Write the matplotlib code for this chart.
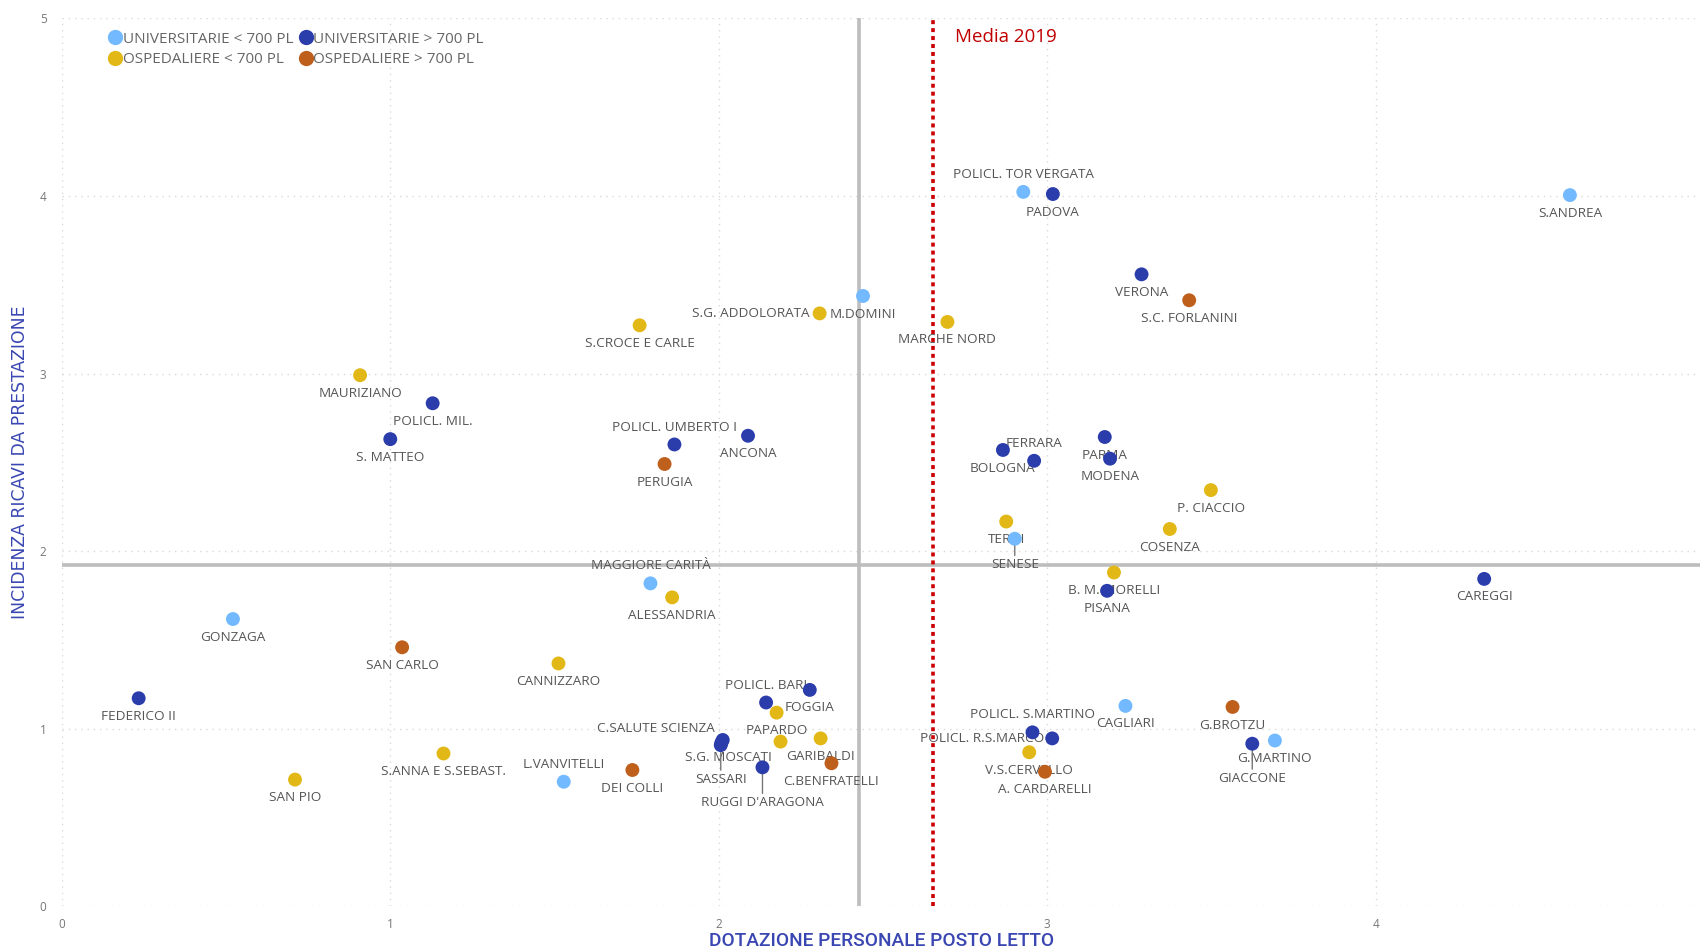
import matplotlib
matplotlib.use('Agg')
import matplotlib.pyplot as plt
from matplotlib.lines import Line2D

plt.rcParams['font.family'] = ['Open Sans', 'DejaVu Sans']

# dati: dotazione personale per posto letto (x) vs incidenza ricavi da prestazione (y)
names = [
    'S.ANDREA', 'POLICL. TOR VERGATA', 'PADOVA', 'VERONA', 'S.C. FORLANINI',
    'M.DOMINI', 'S.G. ADDOLORATA', 'S.CROCE E CARLE', 'MARCHE NORD', 'MAURIZIANO',
    'POLICL. MIL.', 'S. MATTEO', 'POLICL. UMBERTO I', 'ANCONA', 'PERUGIA',
    'BOLOGNA', 'FERRARA', 'PARMA', 'MODENA', 'P. CIACCIO',
    'COSENZA', 'TERNI', 'SENESE', 'B. M. MORELLI', 'PISANA',
    'CAREGGI', 'MAGGIORE CARITÀ', 'ALESSANDRIA', 'GONZAGA', 'SAN CARLO',
    'CANNIZZARO', 'FEDERICO II', 'POLICL. BARI', 'FOGGIA', 'PAPARDO',
    '', 'GARIBALDI', 'C.BENFRATELLI', 'C.SALUTE SCIENZA', 'S.G. MOSCATI',
    'SASSARI', "RUGGI D'ARAGONA", 'DEI COLLI', 'L.VANVITELLI', 'S.ANNA E S.SEBAST.',
    'SAN PIO', 'POLICL. S.MARTINO', 'POLICL. R.S.MARCO', 'V.S.CERVELLO', 'A. CARDARELLI',
    'CAGLIARI', 'G.BROTZU', 'G.MARTINO', 'GIACCONE',
]
dotazione = [
    4.591, 2.927, 3.017, 3.287, 3.432,
    2.439, 2.307, 1.759, 2.696, 0.908,
    1.129, 1.000, 1.865, 2.089, 1.835,
    2.865, 2.960, 3.175, 3.191, 3.498,
    3.373, 2.875, 2.901, 3.203, 3.182,
    4.330, 1.792, 1.858, 0.521, 1.036,
    1.512, 0.234, 2.144, 2.277, 2.176,
    2.188, 2.310, 2.343, 2.012, 2.008,
    2.006, 2.133, 1.737, 1.528, 1.162,
    0.710, 2.955, 3.015, 2.945, 2.993,
    3.238, 3.564, 3.693, 3.624,
]
incidenza = [
    4.005, 4.023, 4.011, 3.559, 3.413,
    3.437, 3.339, 3.272, 3.291, 2.991,
    2.833, 2.631, 2.601, 2.650, 2.491,
    2.570, 2.509, 2.643, 2.521, 2.344,
    2.125, 2.167, 2.070, 1.880, 1.777,
    1.844, 1.819, 1.740, 1.618, 1.459,
    1.368, 1.172, 1.148, 1.219, 1.091,
    0.928, 0.946, 0.806, 0.937, 0.922,
    0.908, 0.783, 0.768, 0.702, 0.861,
    0.714, 0.980, 0.946, 0.868, 0.758,
    1.129, 1.123, 0.934, 0.916,
]
# UL = universitarie < 700 PL, UG = universitarie > 700 PL, OL/OG = ospedaliere
tipo = [
    'UL', 'UL', 'UG', 'UG', 'OG',
    'UL', 'OL', 'OL', 'OL', 'OL',
    'UG', 'UG', 'UG', 'UG', 'OG',
    'UG', 'UG', 'UG', 'UG', 'OL',
    'OL', 'OL', 'UL', 'OL', 'UG',
    'UG', 'UL', 'OL', 'UL', 'OG',
    'OL', 'UG', 'UG', 'UG', 'OL',
    'OL', 'OL', 'OG', 'UG', 'UG',
    'UG', 'UG', 'OG', 'UL', 'OL',
    'OL', 'UG', 'UG', 'OL', 'OG',
    'UL', 'OG', 'UL', 'UG',
]
categorie = ['UL', 'UG', 'OL', 'OG']
legenda = ['UNIVERSITARIE < 700 PL', 'UNIVERSITARIE > 700 PL',
           'OSPEDALIERE < 700 PL', 'OSPEDALIERE > 700 PL']
media_x = 2.426
media_y = 1.923
media_2019 = 2.653

colori = {'UL': '#72B9FF', 'UG': '#2B3CAB', 'OL': '#E2B816', 'OG': '#BF5F1C'}

# posizione etichette (offset in punti)
SOTTO = (0, -13, 'center')
SOPRA = (0, 12.5, 'center')
pos_etichette = {
    'POLICL. TOR VERGATA': SOPRA, 'FERRARA': SOPRA, 'POLICL. UMBERTO I': SOPRA,
    'MAGGIORE CARITÀ': SOPRA, 'POLICL. BARI': SOPRA, 'L.VANVITELLI': SOPRA,
    'POLICL. S.MARTINO': SOPRA,
    'S.G. ADDOLORATA': (-7, 0, 'right'),
    'C.SALUTE SCIENZA': (-5.5, 8.5, 'right'),
    'POLICL. R.S.MARCO': (-6, 0, 'right'),
    'S.G. MOSCATI': (5, -10.5, 'center'),
}
con_linea = {'SENESE': -18.7, 'SASSARI': -24.7, "RUGGI D'ARAGONA": -25.5, 'GIACCONE': -25}

fig = plt.figure(figsize=(17, 9.52), dpi=100)
ax = fig.add_axes([0.03635, 0.0479, 0.96365, 0.93277])

ax.set_xlim(0, 4.987)
ax.set_ylim(0, 5)
ax.set_xticks(range(0, 5))
ax.set_yticks(range(0, 6))
for s in ax.spines.values():
    s.set_visible(False)
ax.tick_params(length=0, labelsize=8.5, labelcolor='#777777')
ax.tick_params(axis='x', pad=8)
ax.tick_params(axis='y', pad=11)
ax.grid(True, color='#D9D9D9', linestyle=(0, (1, 3.5)), linewidth=1)
ax.set_axisbelow(True)

ax.axhline(media_y, color='#BDBDBD', lw=2.6, zorder=1)
ax.axvline(media_x, color='#BDBDBD', lw=2.6, zorder=1)
ax.axvline(media_2019, color='#CC0000', lw=2.6, linestyle=(0, (1.1, 1.1)), zorder=1)
ax.text(2.719, 4.896, 'Media 2019', color='#C00000', fontsize=13.5, va='center', ha='left')

for cat in categorie:
    xs = [x for x, t in zip(dotazione, tipo) if t == cat]
    ys = [y for y, t in zip(incidenza, tipo) if t == cat]
    ax.scatter(xs, ys, s=100, color=colori[cat], edgecolors='none', zorder=4)

for n, x, y in zip(names, dotazione, incidenza):
    if not n:
        continue
    if n in con_linea:
        ax.annotate(n, (x, y), xytext=(0, con_linea[n]), textcoords='offset points',
                    ha='center', va='center', fontsize=9.7, color='#555555', zorder=2,
                    arrowprops=dict(arrowstyle='-', color='#777777', lw=1.0,
                                    shrinkA=0, shrinkB=0, relpos=(0.5, 1.0)))
        continue
    dx, dy, ha = pos_etichette.get(n, SOTTO)
    ax.annotate(n, (x, y), xytext=(dx, dy), textcoords='offset points',
                ha=ha, va='center', fontsize=9.7, color='#555555', zorder=2)

handles = [Line2D([], [], marker='o', linestyle='none', markersize=11,
                  markerfacecolor=colori[c], markeredgecolor='none') for c in categorie]
# ordine per colonne: riga 1 UL/UG, riga 2 OL/OG
order = [0, 2, 1, 3]
ax.legend([handles[i] for i in order], [legenda[i] for i in order], ncol=2,
          loc='upper left', bbox_to_anchor=(0.022, 0.997), frameon=False,
          fontsize=11, labelcolor='#666666', handletextpad=0.02,
          columnspacing=0.4, labelspacing=0.35, handlelength=0.9, borderpad=0.2)

fig.text(0.5185, 0.0116, 'DOTAZIONE PERSONALE POSTO LETTO', color='#3A47B2',
         fontsize=13.8, family=['Roboto', 'DejaVu Sans'], fontweight='medium',
         ha='center', va='center')
fig.text(0.0115, 0.5147, 'INCIDENZA RICAVI DA PRESTAZIONE', color='#3A47B2',
         fontsize=12.4, family=['DejaVu Sans'], rotation=90, ha='center', va='center')

fig.savefig('out.png', dpi=100)
